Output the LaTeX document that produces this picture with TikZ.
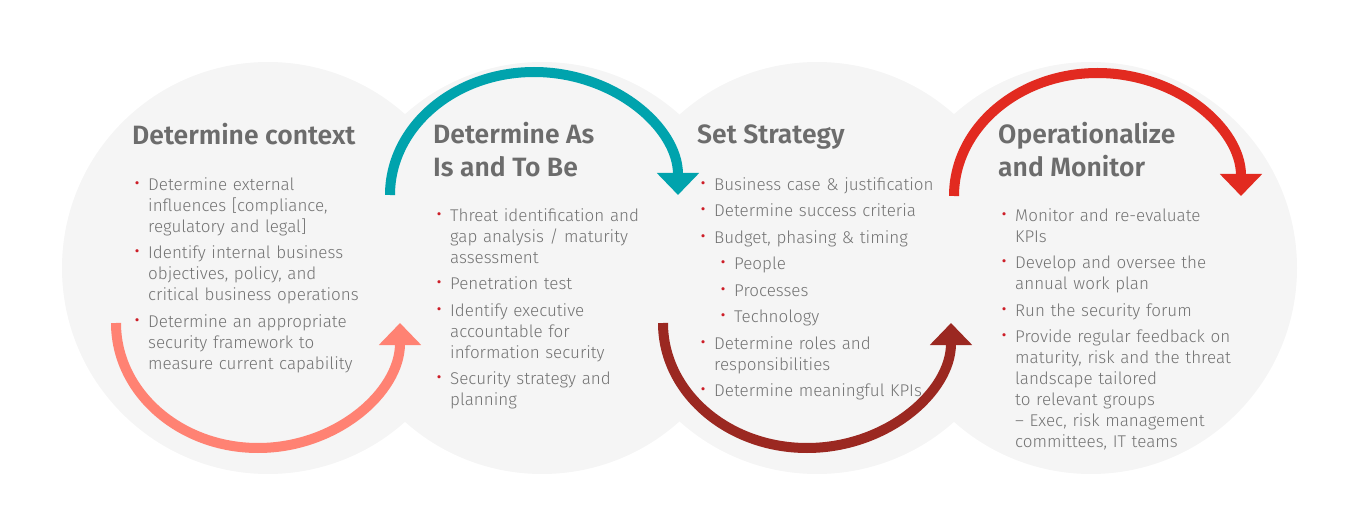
\documentclass[tikz,border=0pt]{standalone}
\usepackage{fontspec}
\usepackage{enumitem}
\usetikzlibrary{arrows.meta,calc}
\newfontfamily\headfamily{Fira Sans SemiBold}
\newfontfamily\bodyfamily{Fira Sans Light}
\definecolor{discfill}{RGB}{245,245,245}
\definecolor{headgray}{RGB}{108,108,108}
\definecolor{textgray}{RGB}{115,115,115}
\definecolor{bulred}{RGB}{205,30,40}
\definecolor{arcsalmon}{RGB}{255,130,115}
\definecolor{arcteal}{RGB}{0,163,173}
\definecolor{arcmaroon}{RGB}{155,40,33}
\definecolor{arcred}{RGB}{226,42,32}
\newcommand{\redbul}{\textcolor{bulred}{\fontsize{21}{17}\selectfont\textbullet}}
\setlist[itemize,1]{label=\redbul,leftmargin=14pt,labelwidth=8pt,labelsep=6pt,align=left,
  topsep=0pt,partopsep=0pt,parsep=0pt,itemsep=5.5pt}
\setlist[itemize,2]{label=\redbul,leftmargin=20pt,labelwidth=8pt,labelsep=6pt,align=left,
  topsep=5.5pt,partopsep=0pt,parsep=0pt,itemsep=5.5pt}
\tikzset{
  disc/.style={circle,fill=discfill,minimum size=412pt,inner sep=0pt},
  head/.style={anchor=base west,align=left,inner sep=0pt,text=headgray,
    font=\headfamily\fontsize{26.5}{33}\selectfont},
  items/.style={anchor=north west,inner sep=0pt,text width=260pt,text=textgray,
    font=\bodyfamily\fontsize{17}{21}\selectfont},
  loop/.style={line width=10pt,-{Triangle[width=41pt,length=22pt]}}
}
\begin{document}
\begin{tikzpicture}[x=1pt,y=1pt]
  \useasboundingbox (0,0) rectangle (1358,531);
  % discs
  \node[disc] (c1) at (268,263) {};
  \node[disc] (c2) at (542,263) {};
  \node[disc] (c3) at (817,263) {};
  \node[disc] (c4) at (1091,263) {};

  % loops
  \draw[loop,arcsalmon] ($(c1)+(-152,-55)$) arc[start angle=180,end angle=360,x radius=142,y radius=125];
  \draw[loop,arcteal] ($(c2)+(-152,73)$) arc[start angle=180,end angle=0,x radius=144,y radius=123];
  \draw[loop,arcmaroon] ($(c3)+(-154,-55)$) arc[start angle=180,end angle=360,x radius=144,y radius=125];
  \draw[loop,arcred] ($(c4)+(-137,72)$) arc[start angle=180,end angle=0,x radius=143.5,y radius=123];

  % titles (base = last line)
  \node[head] (t1) at (132,386) {Determine context};
  \node[head] (t2) at (433,354) {Determine As\\Is and To Be};
  \node[head] (t3) at (697,387) {Set Strategy};
  \node[head] (t4) at (998,354) {Operationalize\\and Monitor};

  % bullet lists
  \node[items] (l1) at (134,362) {\begin{itemize}
    \item Determine external\\influences [compliance,\\regulatory and legal]
    \item Identify internal business\\objectives, policy, and\\critical business operations
    \item Determine an appropriate\\security framework to\\measure current capability
  \end{itemize}};
  \node[items] (l2) at (436,331) {\begin{itemize}
    \item Threat identification and\\gap analysis / maturity\\assessment
    \item Penetration test
    \item Identify executive\\accountable for\\information security
    \item Security strategy and\\planning
  \end{itemize}};
  \node[items] (l3) at (700,362) {\begin{itemize}
    \item Business case \& justification
    \item Determine success criteria
    \item Budget, phasing \& timing
      \begin{itemize}
        \item People
        \item Processes
        \item Technology
      \end{itemize}
    \item Determine roles and\\responsibilities
    \item Determine meaningful KPIs
  \end{itemize}};
  \node[items] (l4) at (1001,331) {\begin{itemize}
    \item Monitor and re-evaluate\\KPIs
    \item Develop and oversee the\\annual work plan
    \item Run the security forum
    \item Provide regular feedback on\\maturity, risk and the threat\\landscape tailored\\to relevant groups\\– Exec, risk management\\committees, IT teams
  \end{itemize}};
\end{tikzpicture}
\end{document}
